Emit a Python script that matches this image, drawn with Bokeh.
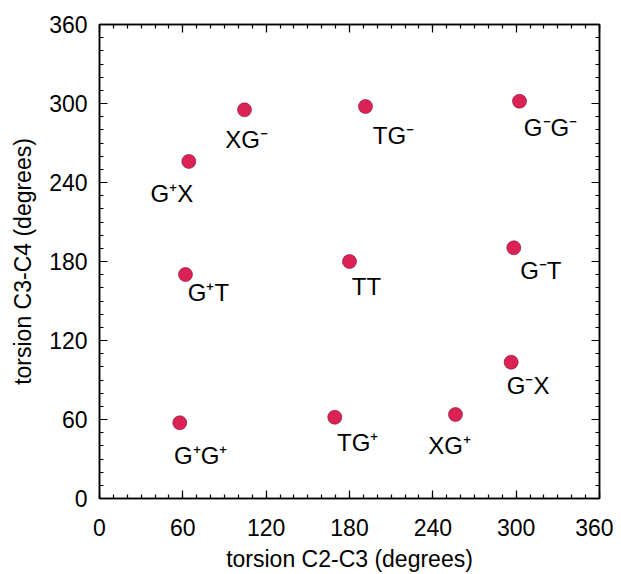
from bokeh.plotting import figure
from bokeh.models import ColumnDataSource, LinearAxis, SingleIntervalTicker, Range1d
from bokeh.core.properties import value
from bokeh.embed import file_html
from bokeh.resources import INLINE

conformers = ["G\u207aG\u207a", "TG\u207a", "XG\u207a", "XG\u207b", "G\u207aX", "TG\u207b",
              "G\u207bG\u207b", "G\u207bT", "G\u207bX", "TT", "G\u207aT"]
torsion_c2c3 = [57.8, 169.4, 256.3, 104.4, 64.3, 191.5, 302.4, 298.3, 296.4, 180.0, 61.9]
torsion_c3c4 = [57.5, 61.7, 63.8, 295.2, 256.0, 297.7, 301.7, 190.4, 103.5, 180.0, 170.1]
tick_values = [0, 60, 120, 180, 240, 300, 360]

# label placement offsets (screen px, y downward) relative to each point
label_dx = [21, 23, -6, 2, -17, 28, 31, 27, 17, 17, 23]
label_dy = [33, 25, 31, 30, 32, 29, 26, 23, 23, 25, 18]

FONT = "Liberation Sans"

src = ColumnDataSource(dict(x=torsion_c2c3, y=torsion_c3c4, lab=conformers,
                            dx=label_dx, dy=label_dy))

p = figure(width=613, height=574, output_backend="svg", toolbar_location=None,
           x_range=Range1d(0, 360), y_range=Range1d(0, 360),
           min_border_left=99, min_border_right=14, min_border_top=24, min_border_bottom=76,
           x_axis_label="torsion C2-C3 (degrees)", y_axis_label="torsion C3-C4 (degrees)")
p.grid.visible = False
p.outline_line_color = "black"
p.outline_line_width = 1.5
p.background_fill_color = "white"
p.border_fill_color = "white"

def style_axis(ax, labels=True):
    ax.ticker = SingleIntervalTicker(interval=60, num_minor_ticks=6)
    ax.axis_line_color = "black"
    ax.axis_line_width = 1.5
    ax.major_tick_in = 8
    ax.major_tick_out = 0
    ax.minor_tick_in = 4
    ax.minor_tick_out = 0
    ax.major_tick_line_width = 1.2
    ax.minor_tick_line_width = 1.2
    ax.major_label_text_font = FONT
    ax.major_label_text_font_size = "23px"
    ax.major_label_text_color = "black"
    ax.axis_label_text_font = FONT
    ax.axis_label_text_font_size = "23px"
    ax.axis_label_text_font_style = "normal"
    ax.axis_label_text_color = "black"
    if not labels:
        ax.major_label_text_font_size = "0px"
        ax.major_label_text_alpha = 0

for ax in p.xaxis:
    style_axis(ax)
    ax.major_label_standoff = 20
    ax.axis_label_standoff = 7
for ax in p.yaxis:
    style_axis(ax)
    ax.major_label_standoff = 12
    ax.axis_label_standoff = 10

top = LinearAxis()
style_axis(top, labels=False)
right = LinearAxis()
style_axis(right, labels=False)
p.add_layout(top, "above")
p.add_layout(right, "right")
p.min_border_top = 24
p.min_border_right = 14

p.scatter("x", "y", source=src, size=14, fill_color="#dc2255",
          line_color="#7a1030", line_width=0.6)
p.text("x", "y", text="lab", source=src, x_offset="dx", y_offset="dy",
       text_font=value(FONT), text_font_size="24px", text_color="black",
       text_align="center", text_baseline="middle")

open("out.html", "w").write(file_html(p, INLINE))
